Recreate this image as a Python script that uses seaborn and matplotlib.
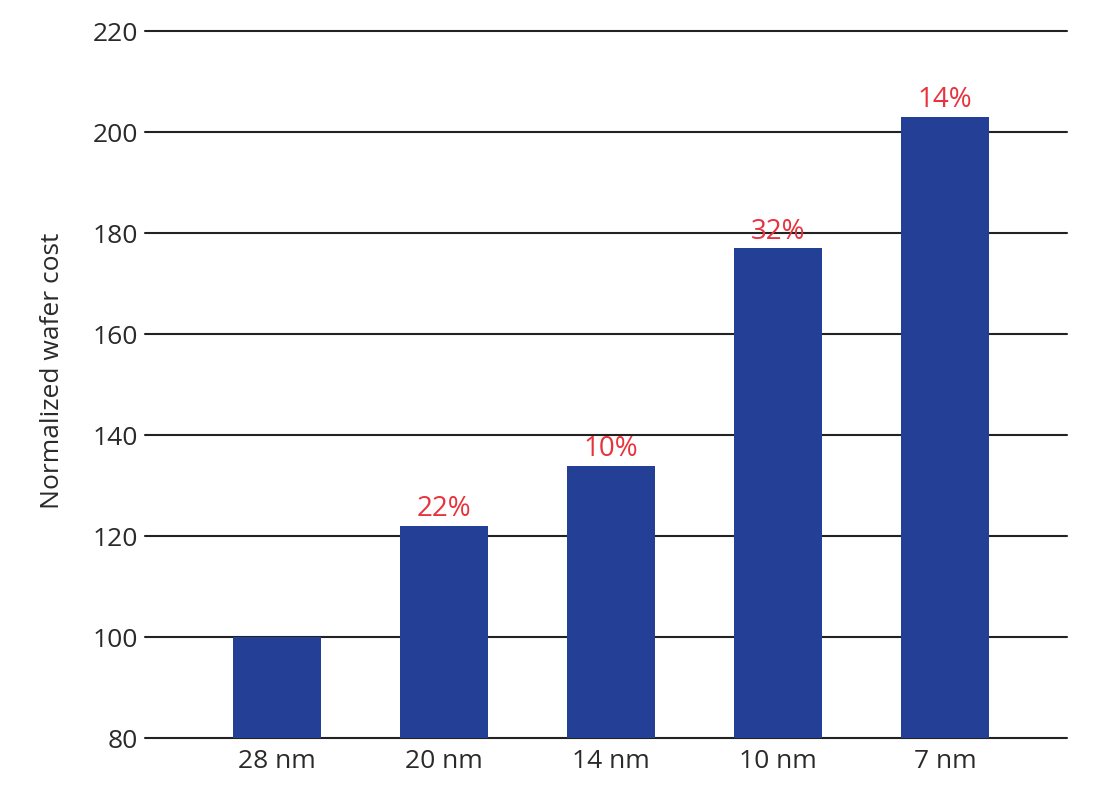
import matplotlib
matplotlib.use("Agg")
import matplotlib.pyplot as plt
import seaborn as sns
import pandas as pd

nodes = ["28 nm", "20 nm", "14 nm", "10 nm", "7 nm"]
wafer_cost = [100, 122, 134, 177, 203]
increase = ["", "22%", "10%", "32%", "14%"]

sns.set_theme(style="white")
plt.rcParams["font.family"] = ["Open Sans", "DejaVu Sans"]

df = pd.DataFrame({"node": nodes, "cost": wafer_cost})

fig = plt.figure(figsize=(11, 7.99), dpi=100)
ax = fig.add_axes([0.132, 0.076, 0.838, 0.885])

sns.barplot(data=df, x="node", y="cost", color="#233f96", saturation=1,
            width=0.53, linewidth=0, ax=ax, zorder=3)

ax.set_ylim(80, 220)
ax.set_xlim(-0.79, 4.73)
ax.set_yticks(range(80, 221, 20))
ax.yaxis.grid(True, color="#222222", linewidth=1.5, zorder=1)
ax.set_axisbelow(True)
for g in ax.yaxis.get_gridlines():
    g.set_clip_on(False)
for s in ax.spines.values():
    s.set_visible(False)
ax.tick_params(axis="both", length=0, labelsize=19, colors="#2a2a2a")
ax.tick_params(axis="y", pad=5)
ax.tick_params(axis="x", pad=8)
ax.set_xlabel("")
ax.set_ylabel("Normalized wafer cost", fontsize=19, color="#2a2a2a")
ax.yaxis.set_label_coords(-0.087, 0.52)

for i, (v, lab) in enumerate(zip(wafer_cost, increase)):
    if lab:
        ax.annotate(lab, (i, v), xytext=(0, 2), textcoords="offset points",
                    ha="center", va="bottom", color="#e8323c", fontsize=20,
                    fontweight="medium", zorder=5)

fig.savefig("out.png", dpi=100)
